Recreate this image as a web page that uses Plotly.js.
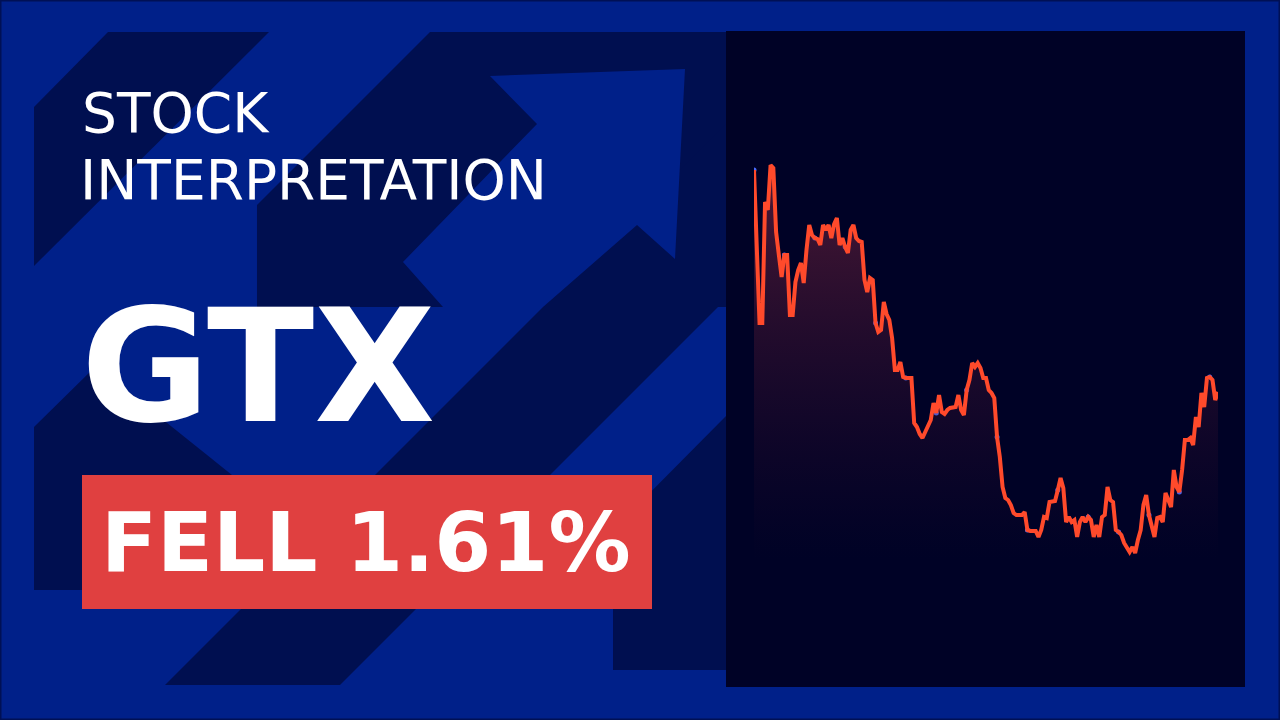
<!DOCTYPE html>
<html>
<head>
<meta charset="utf-8">
<script src="https://cdn.plot.ly/plotly-3.0.1.min.js"></script>
<style>
  html, body { margin: 0; padding: 0; background: #002089; }
  #chart { width: 1280px; height: 720px; }
</style>
</head>
<body>
<div id="chart"></div>
<script>
// ---- data ----
var ticker = 'GTX';
var headline = ['STOCK', 'INTERPRETATION'];
var changeLabel = 'FELL 1.61%';

// daily closes, oldest first
var prices = [
  5.30, 4.50, 3.77, 3.77, 4.98, 4.90, 5.35, 5.32, 4.68, 4.45,
  4.23, 4.45, 4.45, 3.85, 3.85, 4.18, 4.30, 4.37, 4.17, 4.50,
  4.75, 4.65, 4.62, 4.61, 4.55, 4.75, 4.70, 4.75, 4.62, 4.76,
  4.82, 4.55, 4.62, 4.53, 4.47, 4.70, 4.75, 4.62, 4.59, 4.58,
  4.20, 4.08, 4.22, 4.20, 3.77, 3.68, 3.70, 3.98, 3.86, 3.80,
  3.62, 3.30, 3.30, 3.38, 3.23, 3.22, 3.22, 3.22, 2.77, 2.73,
  2.66, 2.62, 2.68, 2.74, 2.80, 2.97, 2.87, 3.05, 2.88, 2.86,
  2.90, 2.92, 2.92, 2.93, 3.05, 2.90, 2.85, 3.10, 3.20, 3.37,
  3.33, 3.37, 3.32, 3.22, 3.22, 3.10, 3.07, 3.02, 2.63, 2.43,
  2.13, 2.02, 2.00, 1.95, 1.87, 1.85, 1.85, 1.85, 1.88, 1.70,
  1.69, 1.69, 1.69, 1.63, 1.70, 1.83, 1.82, 1.98, 1.98, 1.99,
  2.10, 2.22, 2.12, 1.78, 1.83, 1.78, 1.80, 1.63, 1.78, 1.83,
  1.78, 1.83, 1.80, 1.63, 1.75, 1.63, 1.83, 1.85, 2.13, 2.00,
  1.98, 1.70, 1.68, 1.65, 1.57, 1.52, 1.48, 1.53, 1.47, 1.60,
  1.70, 1.95, 2.05, 1.85, 1.75, 1.63, 1.82, 1.83, 1.78, 2.07,
  2.00, 1.93, 2.30, 2.13, 2.08, 2.30, 2.60, 2.60, 2.62, 2.55,
  2.83, 2.73, 3.07, 2.93, 3.22, 3.23, 3.20, 3.00, 3.08
];
var days = prices.map(function (p, i) { return i; });
var markEvery = 11;

// ---- helpers for the backdrop (pixel polygons -> paper paths) ----
var W = 1280, H = 720;
function poly(pts, color) {
  var d = pts.map(function (p, i) {
    return (i ? 'L' : 'M') + (p[0] / W).toFixed(5) + ',' + (1 - p[1] / H).toFixed(5);
  }).join('') + 'Z';
  return { type: 'path', xref: 'paper', yref: 'paper', path: d,
           fillcolor: color, line: { width: 0 }, layer: 'below' };
}
function box(x0, y0, x1, y1, color) {
  return { type: 'rect', xref: 'paper', yref: 'paper',
           x0: x0 / W, x1: x1 / W, y0: 1 - y1 / H, y1: 1 - y0 / H,
           fillcolor: color, line: { width: 0 }, layer: 'below' };
}

var light = '#002089', dark = '#000f50';
var shapes = [
  poly([[34,107],[108,32],[269,32],[34,266]], dark),
  poly([[430,32],[727,32],[727,307],[257,307],[257,205]], dark),
  poly([[727,123],[727,298],[340,685],[165,685]], dark),
  poly([[490,76],[685,69],[675,259],[637,225],[543,307],[443,307],[403,262],[537,124]], light),
  poly([[34,427],[96,366],[232,475],[150,590],[34,590]], dark),
  poly([[613,530],[727,415],[727,670],[613,670]], dark),
  box(726, 31, 1245, 687, '#000226'),
  box(82, 475, 652, 609, '#e04040'),
  { type: 'rect', xref: 'paper', yref: 'paper', x0: 0, x1: 1, y0: 0, y1: 1,
    line: { color: '#001055', width: 3 }, layer: 'below' }
];

function label(txt, x, yMid, size, bold) {
  return { text: txt, xref: 'paper', yref: 'paper', x: x / W, y: 1 - yMid / H,
           xanchor: 'left', yanchor: 'middle', showarrow: false,
           font: { family: 'DejaVu Sans', size: size, color: '#ffffff',
                   weight: bold ? 'bold' : 'normal' } };
}

var annotations = [
  label(headline[0], 80, 113, 55, false),
  label(headline[1], 78, 180, 55, false),
  label(ticker, 79, 366, 157, true),
  label(changeLabel, 99, 542, 82, true)
];

var priceLine = {
  x: days, y: prices, type: 'scatter', mode: 'lines',
  line: { color: '#ff4a2b', width: 4 },
  fill: 'tozeroy',
  fillgradient: {
    type: 'vertical', start: 1.4, stop: 5.2,
    colorscale: [[0, 'rgba(60,15,45,0)'], [1, 'rgba(120,38,62,0.6)']]
  },
  hoverinfo: 'skip'
};

var dots = {
  x: days.filter(function (d) { return d % markEvery === 0; }),
  y: prices.filter(function (p, i) { return i % markEvery === 0; }),
  type: 'scatter', mode: 'markers',
  marker: { color: '#4a6cff', size: 5 },
  hoverinfo: 'skip'
};

var layout = {
  width: W, height: H,
  margin: { l: 0, r: 0, t: 0, b: 0, pad: 0 },
  paper_bgcolor: light,
  plot_bgcolor: 'rgba(0,0,0,0)',
  showlegend: false,
  xaxis: { domain: [754 / W, 1218 / W], range: [0, prices.length - 1],
           visible: false, fixedrange: true },
  yaxis: { domain: [0, 1], range: [-0.2, 7.0], visible: false, fixedrange: true },
  shapes: shapes,
  annotations: annotations
};

Plotly.newPlot('chart', [dots, priceLine], layout, { displayModeBar: false, staticPlot: true });
</script>
</body>
</html>
